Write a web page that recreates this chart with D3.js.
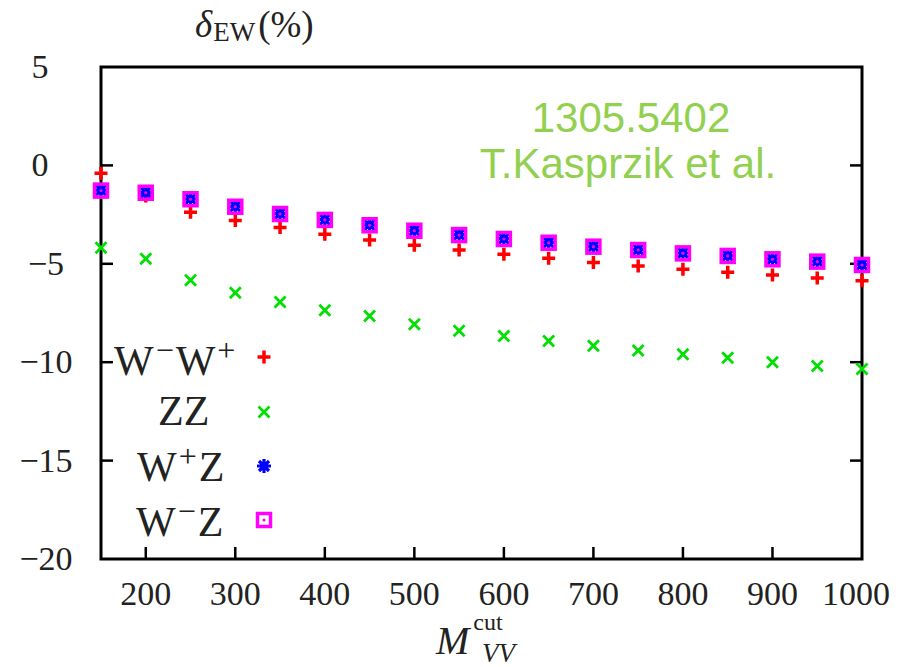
<!DOCTYPE html>
<html>
<head>
<meta charset="utf-8">
<script src="https://cdn.jsdelivr.net/npm/d3@7"></script>
<style>
  body { margin: 0; background: #fff; }
</style>
</head>
<body>
<div id="chart"></div>
<script>
const mcut = [150, 200, 250, 300, 350, 400, 450, 500, 550, 600, 650, 700, 750, 800, 850, 900, 950, 1000];
const wmwp = [-0.4, -1.55, -2.38, -2.8, -3.16, -3.5, -3.79, -4.06, -4.3, -4.52, -4.72, -4.93, -5.11, -5.28, -5.43, -5.57, -5.72, -5.86];
const zz = [-4.18, -4.74, -5.84, -6.47, -6.94, -7.36, -7.65, -8.07, -8.4, -8.67, -8.92, -9.16, -9.4, -9.6, -9.77, -10.0, -10.19, -10.35];
const wpz = [-1.26, -1.37, -1.7, -2.08, -2.45, -2.75, -3.02, -3.3, -3.52, -3.72, -3.91, -4.11, -4.28, -4.45, -4.58, -4.75, -4.87, -5.04];
const wmz = [-1.28, -1.39, -1.72, -2.1, -2.47, -2.77, -3.04, -3.32, -3.54, -3.74, -3.93, -4.13, -4.3, -4.47, -4.6, -4.77, -4.89, -5.06];
const xTicks = [200, 300, 400, 500, 600, 700, 800, 900, 1000];
const yTicks = [5, 0, -5, -10, -15, -20];

const width = 909, height = 667;
const serif = "'Liberation Serif', 'DejaVu Serif', 'Times New Roman', serif";
const x = d3.scaleLinear().domain([150, 1000]).range([101, 862]);
const y = d3.scaleLinear().domain([-20, 5]).range([559, 67]);

const svg = d3.select('#chart').append('svg')
    .attr('width', width)
    .attr('height', height)
    .attr('font-family', serif)
    .attr('fill', '#222');

// marker shapes (gnuplot style)
const plusPath = 'M-6.5,0H6.5M0,-6.5V6.5';
const crossPath = 'M-5.5,-5.5L5.5,5.5M-5.5,5.5L5.5,-5.5';
const starPath = 'M-7,0H7M0,-7V7M-5,-5L5,5M-5,5L5,-5';

function drawPlus(g, px, py) {
    g.append('path').attr('d', plusPath).attr('transform', `translate(${px},${py})`)
        .attr('stroke', '#ff0000').attr('stroke-width', 3.5).attr('fill', 'none');
}
function drawCross(g, px, py) {
    g.append('path').attr('d', crossPath).attr('transform', `translate(${px},${py})`)
        .attr('stroke', '#00e000').attr('stroke-width', 2.8).attr('fill', 'none');
}
function drawStar(g, px, py) {
    g.append('path').attr('d', starPath).attr('transform', `translate(${px},${py})`)
        .attr('stroke', '#0000ff').attr('stroke-width', 3.2).attr('fill', 'none');
}
function drawSquare(g, px, py) {
    g.append('rect').attr('x', px - 6.5).attr('y', py - 6.5).attr('width', 13).attr('height', 13)
        .attr('stroke', '#ff00ff').attr('stroke-width', 3.5).attr('fill', 'none');
    g.append('circle').attr('cx', px).attr('cy', py).attr('r', 1.6).attr('fill', '#ff00ff');
}

const series = [
    { name: [['W'], ['−', 'sup'], ['W'], ['+', 'sup']], values: wmwp, draw: drawPlus, tx: 114, ty: 375, my: 357 },
    { name: [['ZZ']], values: zz, draw: drawCross, tx: 158, ty: 425, my: 412 },
    { name: [['W'], ['+', 'sup'], ['Z']], values: wpz, draw: drawStar, tx: 137, ty: 481, my: 466 },
    { name: [['W'], ['−', 'sup'], ['Z']], values: wmz, draw: drawSquare, tx: 136, ty: 536, my: 520 }
];

// frame
svg.append('rect')
    .attr('x', x(150)).attr('y', y(5))
    .attr('width', x(1000) - x(150)).attr('height', y(-20) - y(5))
    .attr('fill', 'none').attr('stroke', '#000').attr('stroke-width', 3);

// inward ticks
const tickLen = 12;
svg.append('g').selectAll('line')
    .data(xTicks.filter(d => d < 1000))
    .enter().append('line')
    .attr('x1', d => x(d)).attr('x2', d => x(d))
    .attr('y1', y(-20)).attr('y2', y(-20) - tickLen)
    .attr('stroke', '#000').attr('stroke-width', 2.5);
const innerY = yTicks.filter(d => d < 5 && d > -20);
svg.append('g').selectAll('line')
    .data(innerY)
    .enter().append('line')
    .attr('x1', x(150)).attr('x2', x(150) + tickLen)
    .attr('y1', d => y(d)).attr('y2', d => y(d))
    .attr('stroke', '#000').attr('stroke-width', 2.5);
svg.append('g').selectAll('line')
    .data(innerY)
    .enter().append('line')
    .attr('x1', x(1000)).attr('x2', x(1000) - tickLen)
    .attr('y1', d => y(d)).attr('y2', d => y(d))
    .attr('stroke', '#000').attr('stroke-width', 2.5);

// tick labels
svg.append('g').selectAll('text')
    .data(xTicks)
    .enter().append('text')
    .attr('x', d => x(d) - (d === 1000 ? 6 : 0))
    .attr('y', 605)
    .attr('text-anchor', 'middle')
    .attr('font-size', 34)
    .text(d => d);
svg.append('g').selectAll('text')
    .data(yTicks)
    .enter().append('text')
    .attr('x', d => d < 0 ? 46 : 40)
    .attr('y', d => y(d) + 11)
    .attr('text-anchor', 'middle')
    .attr('font-size', 34)
    .text(d => d < 0 ? '−' + Math.abs(d) : d);

// axis titles
const yt = svg.append('text').attr('x', 195).attr('y', 37);
yt.append('tspan').text('δ').attr('font-style', 'italic').attr('font-size', 37);
yt.append('tspan').text('EW').attr('font-size', 27).attr('dy', 4).attr('dx', 1);
yt.append('tspan').text('(%)').attr('font-size', 37).attr('dy', -4).attr('dx', 3);

const xt = svg.append('text').attr('x', 436).attr('y', 654);
xt.append('tspan').text('M').attr('font-style', 'italic').attr('font-size', 40);
xt.append('tspan').text('cut').attr('font-size', 24).attr('dy', -24).attr('dx', 4);
svg.append('text').attr('x', 482).attr('y', 662)
    .attr('font-style', 'italic').attr('font-size', 27).text('VV');

// data points, drawn in gnuplot order
series.forEach(s => {
    const g = svg.append('g');
    s.values.forEach((v, i) => s.draw(g, x(mcut[i]), y(v)));
});

// legend
series.forEach(s => {
    const t = svg.append('text').attr('x', s.tx).attr('y', s.ty).attr('font-size', 42);
    let up = false;
    s.name.forEach(([str, kind]) => {
        const sp = t.append('tspan').text(str);
        if (kind === 'sup') {
            sp.attr('font-size', 32).attr('dy', -14).attr('dx', 2);
            up = true;
        } else if (up) {
            sp.attr('dy', 14).attr('dx', 2);
            up = false;
        }
    });
    s.draw(svg, 264, s.my);
});

// annotation
svg.append('text').attr('x', 631).attr('y', 132).attr('text-anchor', 'middle')
    .attr('font-family', "'Liberation Sans', Arial, sans-serif").attr('font-size', 42)
    .attr('fill', '#92d050').text('1305.5402');
svg.append('text').attr('x', 628).attr('y', 178).attr('text-anchor', 'middle')
    .attr('font-family', "'Liberation Sans', Arial, sans-serif").attr('font-size', 42)
    .attr('fill', '#92d050').text('T.Kasprzik et al.');
</script>
</body>
</html>
